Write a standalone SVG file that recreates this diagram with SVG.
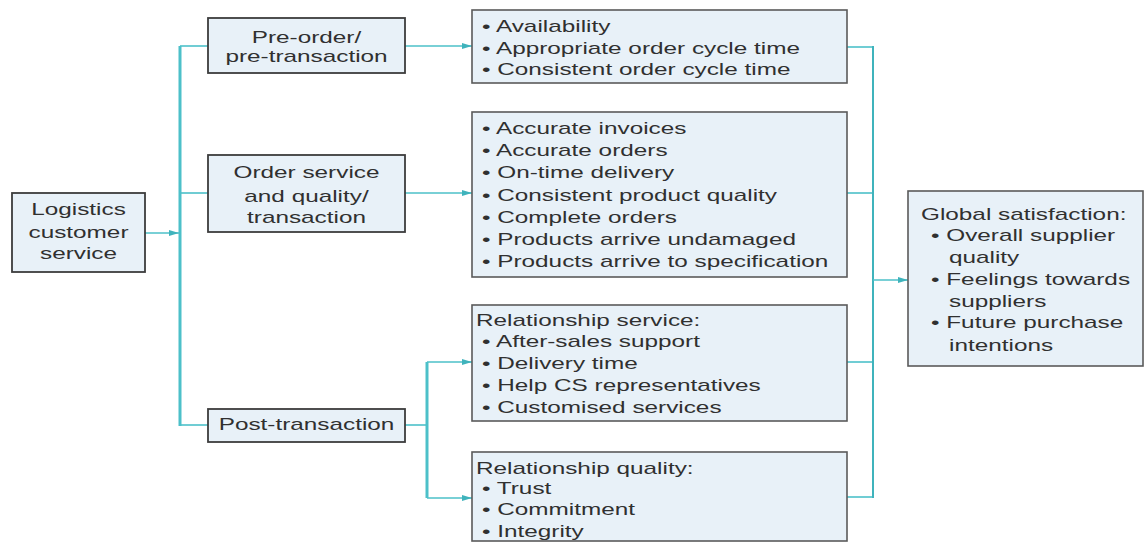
<svg xmlns="http://www.w3.org/2000/svg" width="1148" height="544" viewBox="0 0 1148 544">
<defs>
<style>
.box{fill:#e8f1f8;stroke:#3c3c3c;stroke-width:1.8}
.box2{fill:#e8f1f8;stroke:#5a5a5a;stroke-width:1.6}
.t{font-family:"Liberation Sans",Arial,sans-serif;font-size:16px;fill:#303030}
.c{text-anchor:middle}
.ln{fill:none;stroke:#4cc0c9;stroke-width:1.6}
.bus{fill:none;stroke:#4cc0c9;stroke-width:3}
.bus2{fill:none;stroke:#3fb3bc;stroke-width:2}
</style>
<marker id="ah" viewBox="0 0 10 6" refX="10" refY="3" markerWidth="10" markerHeight="6" markerUnits="userSpaceOnUse" orient="auto">
<path d="M0,0 L10,3 L0,6 z" fill="#3fb3bc"/>
</marker>
</defs>
<rect width="1148" height="544" fill="#ffffff"/>

<g id="connectors">
<line class="ln" x1="145" y1="233" x2="179" y2="233" marker-end="url(#ah)"/>
<line class="bus" x1="180" y1="46" x2="180" y2="426"/>
<polyline class="ln" points="180,46 208,46"/>
<polyline class="ln" points="180,193 208,193"/>
<polyline class="ln" points="180,425 208,425"/>
<line class="ln" x1="405" y1="46" x2="472" y2="46" marker-end="url(#ah)"/>
<line class="ln" x1="405" y1="193" x2="472" y2="193" marker-end="url(#ah)"/>
<line class="ln" x1="405" y1="425" x2="427" y2="425"/>
<line class="bus" x1="427" y1="362" x2="427" y2="498"/>
<line class="ln" x1="427" y1="362" x2="472" y2="362" marker-end="url(#ah)"/>
<line class="ln" x1="427" y1="498" x2="472" y2="498" marker-end="url(#ah)"/>
<polyline class="ln" points="847,47 873,47"/>
<polyline class="ln" points="847,193 873,193"/>
<polyline class="ln" points="847,362 873,362"/>
<polyline class="ln" points="847,497 873,497"/>
<line class="bus2" x1="873" y1="46" x2="873" y2="498"/>
<line class="ln" x1="873" y1="280" x2="908" y2="280" marker-end="url(#ah)"/>
</g>

<g id="logistics">
<rect class="box" x="12" y="193" width="133" height="79"/>
<text class="t c" transform="translate(78.5,0) scale(1.52,1)"><tspan x="0" y="215.5">Logistics</tspan><tspan x="0" y="238.5">customer</tspan><tspan x="0" y="259.5">service</tspan></text>
</g>

<g id="preorder">
<rect class="box" x="208" y="18" width="197" height="55"/>
<text class="t c" transform="translate(306.5,0) scale(1.52,1)"><tspan x="0" y="43.5">Pre-order/</tspan><tspan x="0" y="62.5">pre-transaction</tspan></text>
</g>

<g id="orderservice">
<rect class="box" x="208" y="155" width="197" height="77"/>
<text class="t c" transform="translate(306.5,0) scale(1.52,1)"><tspan x="0" y="178.5">Order service</tspan><tspan x="0" y="202">and quality/</tspan><tspan x="0" y="223.5">transaction</tspan></text>
</g>

<g id="posttransaction">
<rect class="box" x="208" y="409" width="197" height="33"/>
<text class="t c" transform="translate(306.5,0) scale(1.52,1)"><tspan x="0" y="430.5">Post-transaction</tspan></text>
</g>

<g id="availability">
<rect class="box2" x="472" y="10" width="375" height="73"/>
<text class="t" transform="translate(482,0) scale(1.52,1)"><tspan x="0" y="32.5">• Availability</tspan><tspan x="0" y="54">• Appropriate order cycle time</tspan><tspan x="0" y="75.5">• Consistent order cycle time</tspan></text>
</g>

<g id="orderquality">
<rect class="box2" x="472" y="112" width="375" height="165"/>
<text class="t" transform="translate(482,0) scale(1.52,1)"><tspan x="0" y="134">• Accurate invoices</tspan><tspan x="0" y="156">• Accurate orders</tspan><tspan x="0" y="178.5">• On-time delivery</tspan><tspan x="0" y="201">• Consistent product quality</tspan><tspan x="0" y="223">• Complete orders</tspan><tspan x="0" y="245.5">• Products arrive undamaged</tspan><tspan x="0" y="267.5">• Products arrive to specification</tspan></text>
</g>

<g id="relservice">
<rect class="box2" x="472" y="305" width="375" height="116"/>
<text class="t" transform="translate(476,0) scale(1.52,1)"><tspan x="0" y="326">Relationship service:</tspan></text>
<text class="t" transform="translate(482,0) scale(1.52,1)"><tspan x="0" y="347">• After-sales support</tspan><tspan x="0" y="369">• Delivery time</tspan><tspan x="0" y="391.5">• Help CS representatives</tspan><tspan x="0" y="413.5">• Customised services</tspan></text>
</g>

<g id="relquality">
<rect class="box2" x="472" y="452" width="375" height="89"/>
<text class="t" transform="translate(476,0) scale(1.52,1)"><tspan x="0" y="474">Relationship quality:</tspan></text>
<text class="t" transform="translate(482,0) scale(1.52,1)"><tspan x="0" y="494">• Trust</tspan><tspan x="0" y="515.5">• Commitment</tspan><tspan x="0" y="537">• Integrity</tspan></text>
</g>

<g id="global">
<rect class="box2" x="908" y="191" width="235" height="175"/>
<text class="t" transform="translate(921,0) scale(1.52,1)"><tspan x="0" y="220.5">Global satisfaction:</tspan></text>
<text class="t" transform="translate(931,0) scale(1.52,1)"><tspan x="0" y="241.5">• Overall supplier</tspan><tspan x="0" y="285.5">• Feelings towards</tspan><tspan x="0" y="328.5">• Future purchase</tspan></text>
<text class="t" transform="translate(949,0) scale(1.52,1)"><tspan x="0" y="263.5">quality</tspan><tspan x="0" y="307.5">suppliers</tspan><tspan x="0" y="351.5">intentions</tspan></text>
</g>
</svg>
